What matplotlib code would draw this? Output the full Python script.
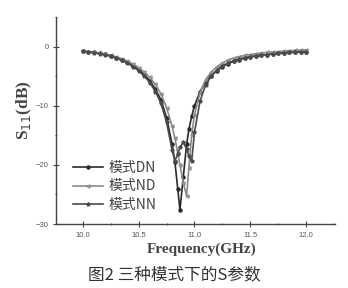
import numpy as np
import matplotlib.pyplot as plt
from matplotlib.ticker import MultipleLocator

plt.rcParams['font.family'] = ['Noto Sans CJK SC', 'DejaVu Sans']

freq = [10.0, 10.05, 10.1, 10.15, 10.2, 10.25, 10.3, 10.35, 10.4, 10.45, 10.5,
        10.55, 10.6, 10.65, 10.7, 10.75, 10.8, 10.825, 10.85, 10.87, 10.9,
        10.93, 10.95, 10.975, 11.0, 11.05, 11.1, 11.15, 11.2, 11.25, 11.3,
        11.35, 11.4, 11.45, 11.5, 11.55, 11.6, 11.65, 11.7, 11.75, 11.8,
        11.85, 11.9, 11.95, 12.0]

s11_dn = [-0.8, -0.9, -1.0, -1.15, -1.3, -1.55, -1.85, -2.2, -2.65, -3.2, -3.9,
          -4.7, -5.8, -7.2, -9.0, -12.0, -16.5, -19.5, -24.0, -27.6, -22.0,
          -16.5, -14.0, -11.8, -10.0, -7.6, -6.0, -4.9, -4.1, -3.4, -2.9,
          -2.5, -2.2, -1.95, -1.75, -1.6, -1.45, -1.35, -1.25, -1.15, -1.1,
          -1.0, -0.95, -0.9, -0.85]

s11_nd = [-0.8, -0.9, -1.0, -1.1, -1.25, -1.45, -1.75, -2.05, -2.45, -2.95, -3.55,
          -4.3, -5.2, -6.4, -8.0, -10.3, -13.5, -15.5, -18.0, -20.0, -23.0,
          -25.3, -20.5, -15.0, -11.5, -7.8, -5.6, -4.3, -3.4, -2.8, -2.3,
          -1.95, -1.7, -1.5, -1.35, -1.2, -1.1, -1.0, -0.9, -0.85, -0.75,
          -0.7, -0.65, -0.6, -0.55]

s11_nn = [-0.8, -0.9, -1.05, -1.2, -1.4, -1.65, -1.95, -2.35, -2.8, -3.4, -4.1,
          -5.0, -6.1, -7.6, -9.6, -12.8, -17.5, -19.3, -18.2, -17.0, -16.2,
          -17.3, -18.5, -19.4, -14.5, -9.2, -6.5, -5.0, -4.0, -3.3, -2.8,
          -2.4, -2.1, -1.9, -1.7, -1.55, -1.45, -1.35, -1.25, -1.15, -1.1,
          -1.0, -0.95, -0.9, -0.85]

labels = ['模式DN', '模式ND', '模式NN']

fig = plt.figure(figsize=(3.48, 2.88), dpi=100)
ax = fig.add_axes([0.161, 0.222, 0.802, 0.719])

ax.plot(freq, s11_dn, color='#2a2a2a', lw=1.2, marker='o', ms=2.2, label=labels[0])
ax.plot(freq, s11_nd, color='#8a8a8a', lw=1.2, marker='<', ms=2.2,
        mfc='white', mec='#8a8a8a', label=labels[1])
ax.plot(freq, s11_nn, color='#4a4a4a', lw=1.2, marker='*', ms=2.8, label=labels[2])

ax.set_xlim(9.76, 12.26)
ax.set_ylim(-30, 5)
ax.set_xticks([10.0, 10.5, 11.0, 11.5, 12.0])
ax.set_yticks([-30, -20, -10, 0])
ax.xaxis.set_minor_locator(MultipleLocator(0.25))
ax.yaxis.set_minor_locator(MultipleLocator(5))
ax.tick_params(which='both', direction='inout', colors='#444444',
               labelsize=5.5, labelcolor='#555555')
ax.tick_params(which='major', length=4)
ax.tick_params(which='minor', length=2)
for lab in ax.get_xticklabels() + ax.get_yticklabels():
    lab.set_family('Liberation Sans')

for side in ['top', 'right']:
    ax.spines[side].set_visible(False)
for side in ['left', 'bottom']:
    ax.spines[side].set_color('#444444')
    ax.spines[side].set_linewidth(1.0)

ax.set_xlabel('Frequency(GHz)', family='Liberation Serif', fontweight='bold',
              fontsize=11, color='#444444', labelpad=2)
ax.xaxis.set_label_coords(0.52, -0.09)
ax.set_ylabel('S$_{11}$(dB)', family='Liberation Serif', fontsize=12.5,
              fontweight='bold', color='#444444')
ax.yaxis.set_label_coords(-0.08, 0.55)

ax.legend(loc='lower left', bbox_to_anchor=(0.015, 0.0), frameon=False,
          fontsize=10, handlelength=2.2, labelspacing=0.3, handletextpad=0.35,
          labelcolor='#444444')

fig.text(0.5, 0.045, '图2 三种模式下的S参数', ha='center', va='center',
         fontsize=12, color='#333333')

fig.savefig('out.png', dpi=100)
